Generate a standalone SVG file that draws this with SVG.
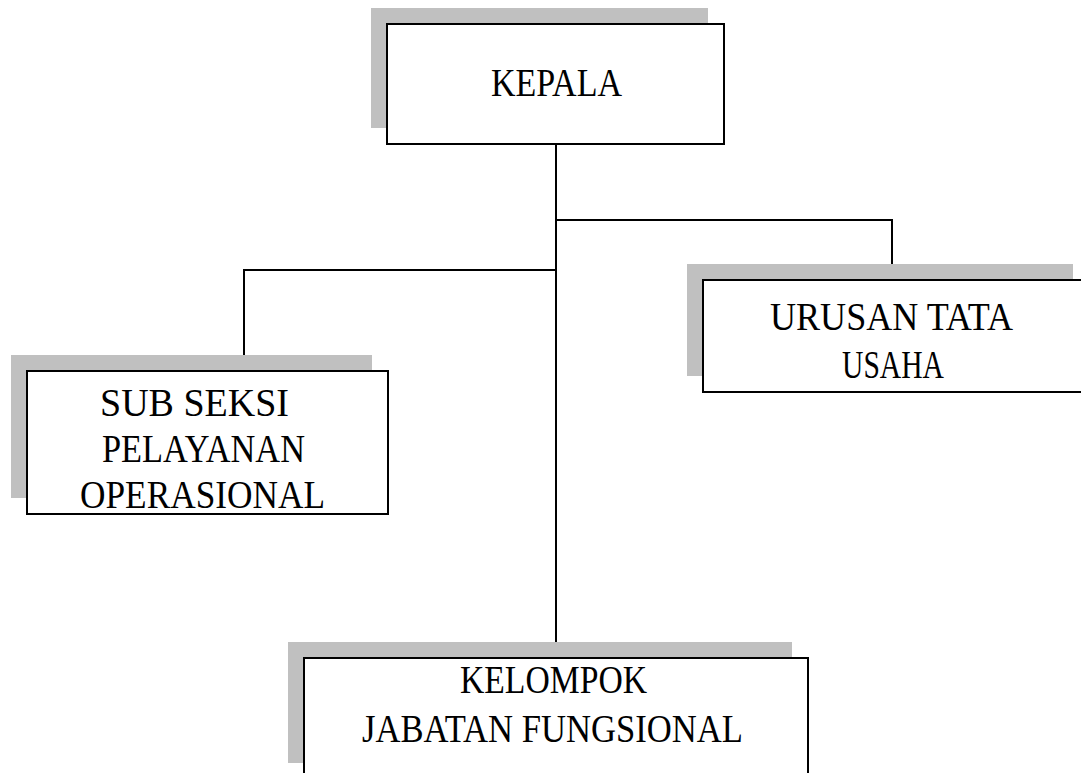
<svg xmlns="http://www.w3.org/2000/svg" width="1081" height="773" viewBox="0 0 1081 773">
<style>
.shadow{fill:#c0c0c0;stroke:none}
.box{fill:#ffffff;stroke:#000000;stroke-width:2}
.lbl{font-family:"Liberation Serif","Times New Roman",serif;font-size:39px;fill:#000000}
.conn{fill:none;stroke:#000000;stroke-width:2}
</style>
<rect width="1081" height="773" fill="#ffffff"/>
<g id="connectors">
<line class="conn" x1="556" y1="144" x2="556" y2="658"/>
<polyline class="conn" points="556,220 892,220 892,264"/>
<polyline class="conn" points="556,270 244,270 244,371"/>
</g>
<g id="kepala">
<rect class="shadow" x="371" y="8" width="337" height="120"/>
<rect class="box" x="387" y="24" width="337" height="120"/>
<text class="lbl" x="491" y="96" textLength="131" lengthAdjust="spacingAndGlyphs">KEPALA</text>
</g>
<g id="urusan">
<rect class="shadow" x="687" y="264" width="386" height="112"/>
<rect class="box" x="703" y="280" width="390" height="112"/>
<text class="lbl" x="770" y="330" textLength="243" lengthAdjust="spacingAndGlyphs">URUSAN TATA</text>
<text class="lbl" x="842" y="378" textLength="102" lengthAdjust="spacingAndGlyphs">USAHA</text>
</g>
<g id="subseksi">
<rect class="shadow" x="11" y="355" width="361" height="143"/>
<rect class="box" x="27" y="371" width="361" height="143"/>
<text class="lbl" x="100" y="416" textLength="189" lengthAdjust="spacingAndGlyphs">SUB SEKSI</text>
<text class="lbl" x="102" y="462" textLength="203" lengthAdjust="spacingAndGlyphs">PELAYANAN</text>
<text class="lbl" x="80" y="508" textLength="245" lengthAdjust="spacingAndGlyphs">OPERASIONAL</text>
</g>
<g id="kelompok">
<rect class="shadow" x="288" y="642" width="504" height="121"/>
<rect class="box" x="304" y="658" width="504" height="130"/>
<text class="lbl" x="460" y="693" textLength="187" lengthAdjust="spacingAndGlyphs">KELOMPOK</text>
<text class="lbl" x="362" y="742" textLength="381" lengthAdjust="spacingAndGlyphs">JABATAN FUNGSIONAL</text>
</g>
</svg>
